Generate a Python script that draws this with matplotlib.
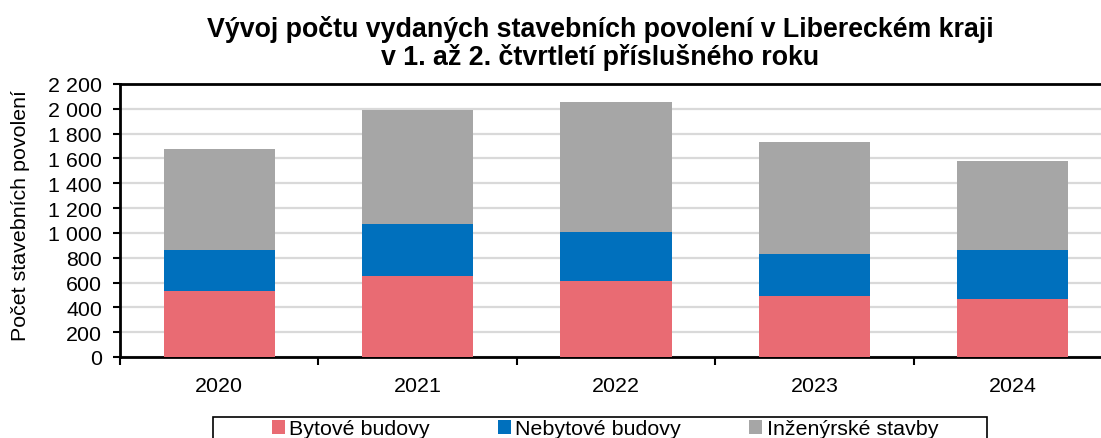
import matplotlib
matplotlib.use("Agg")
import matplotlib.pyplot as plt
from matplotlib.patches import Rectangle
from matplotlib.ticker import FuncFormatter
import numpy as np

# =====================================
# DATA
# =====================================

years = ["2020", "2021", "2022", "2023", "2024"]
bytove = [532, 655, 615, 494, 470]
nebytove = [330, 413, 389, 336, 394]
inzenyrske = [816, 919, 1048, 902, 715]

series_names = ["Bytové budovy", "Nebytové budovy", "Inženýrské stavby"]
colors = ["#E96B73", "#0070BD", "#A6A6A6"]

# =====================================
# FIGURE
# =====================================

plt.rcParams["font.family"] = ["Liberation Sans", "DejaVu Sans"]
FS = 15.4

W, H = 1101, 439
fig = plt.figure(figsize=(W / 100, H / 100), dpi=100)

ax_left, ax_right = 120, 1112
ax_top, ax_bottom = 85, 358
ax = fig.add_axes([ax_left / W, (H - ax_bottom) / H,
                   (ax_right - ax_left) / W, (ax_bottom - ax_top) / H])

x = np.arange(len(years))
bottom = np.zeros(len(years))
handles = []
for vals, col, name in zip([bytove, nebytove, inzenyrske], colors, series_names):
    b = ax.bar(x, vals, width=0.56, bottom=bottom, color=col, label=name,
               zorder=3, linewidth=0)
    handles.append(b)
    bottom += np.array(vals)

ax.set_xlim(-0.5, len(years) - 0.5)
ax.set_ylim(0, 2200)
ax.set_yticks(np.arange(0, 2201, 200))
ax.yaxis.set_major_formatter(
    FuncFormatter(lambda v, p: f"{int(v):,}".replace(",", " "))
)
ax.grid(axis="y", color="#D9D9D9", linewidth=1.6, zorder=0)

ax.set_xticks(x)
ax.set_xticklabels(years)
ax.set_xticks(np.arange(-0.5, len(years), 1.0), minor=True)
ax.tick_params(axis="x", which="major", length=0, pad=14, labelsize=FS)
ax.tick_params(axis="x", which="minor", length=6, width=1.5, direction="out")
ax.tick_params(axis="y", length=5, width=1.5, labelsize=FS, pad=8)

for s in ["left", "bottom", "top"]:
    ax.spines[s].set_linewidth(2)
ax.spines["right"].set_visible(False)

ax.set_ylabel("Počet stavebních povolení", fontsize=FS)
ax.yaxis.set_label_coords(-0.091, 0.52)

fig.text(600 / W, 1 - 16 / H,
         "Vývoj počtu vydaných stavebních povolení v Libereckém kraji\n"
         "v 1. až 2. čtvrtletí příslušného roku",
         ha="center", va="top", fontsize=19.3, fontweight="bold",
         linespacing=1.05)

# legend box
fig.patches.append(Rectangle((213 / W, -0.05), (987 - 213) / W, 0.05 + (H - 418) / H,
                             transform=fig.transFigure, fill=False,
                             edgecolor="black", linewidth=1.2))
fig.legend(handles, series_names, loc="center", ncol=3,
           bbox_to_anchor=(605 / W, (H - 430) / H), frameon=False,
           fontsize=FS, handlelength=0.6, handleheight=0.6,
           handletextpad=0.2, columnspacing=3.2)

fig.savefig("out.png", dpi=100)
